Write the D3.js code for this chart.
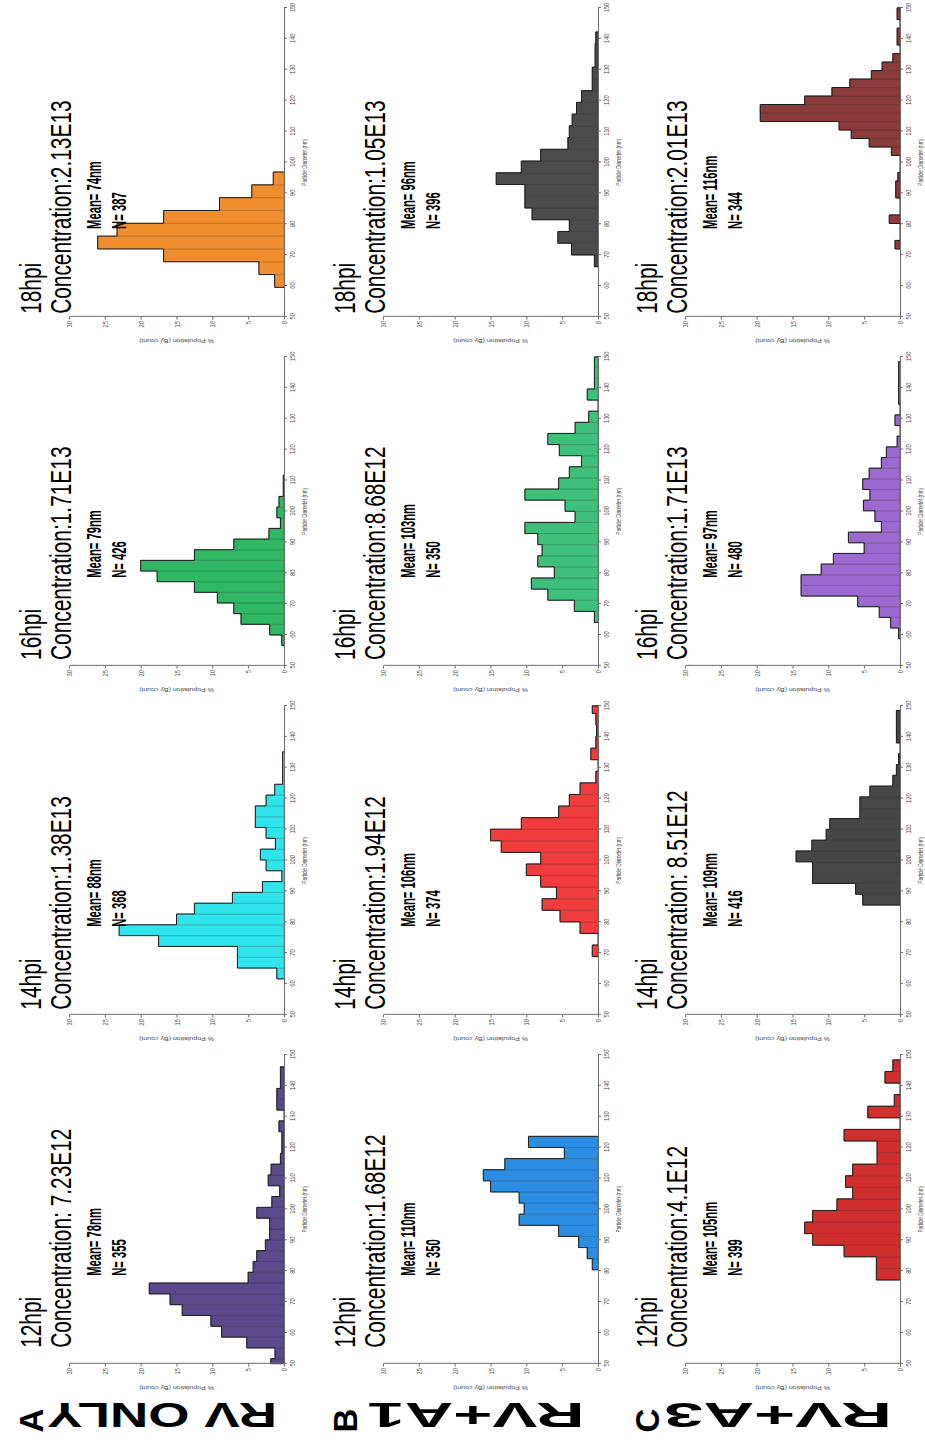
<!DOCTYPE html>
<html>
<head>
<meta charset="utf-8">
<title>Particle diameter distributions</title>
<script src="https://cdn.jsdelivr.net/npm/d3@7"></script>
<style>
  html, body { margin: 0; padding: 0; background: #fff; }
  svg { display: block; }
  text { font-family: "Liberation Sans", Arial, Helvetica, sans-serif; }
</style>
</head>
<body>
<script>
// ---- Groups (rows) and sampling times (columns) ----
const groupNames = ["RV ONLY", "RV+A1", "RV+A3"];
const groupLetters = ["A", "B", "C"];
const timepoints = ["12hpi", "14hpi", "16hpi", "18hpi"];

const concentrationLabels = [
  ["Concentration: 7.23E12", "Concentration:1.38E13", "Concentration:1.71E13", "Concentration:2.13E13"],
  ["Concentration:1.68E12", "Concentration:1.94E12", "Concentration:8.68E12", "Concentration:1.05E13"],
  ["Concentration:4.1E12", "Concentration: 8.51E12", "Concentration:1.71E13", "Concentration:2.01E13"]
];
const meanDiameters = [[78, 88, 79, 74], [110, 106, 103, 96], [105, 109, 97, 116]];
const particleCounts = [[355, 368, 426, 387], [350, 374, 350, 396], [399, 416, 480, 344]];

// ---- Histogram bins: first bin edge (nm), bin width (nm) ----
const binStart = [[48.1, 61.6, 56.5, 59.5], [80.4, 68.8, 64.0, 66.2], [77.1, 85.5, 58.75, 71.95]];
const binWidth = [[3.5, 3.5, 3.45, 4.15], [3.6, 3.75, 3.6, 3.8], [3.75, 3.5, 3.45, 2.75]];

// ---- % population (by count) per bin ----
const pctRvOnly12 = [1.85, 1.25, 5.2, 8.7, 10.2, 14.2, 15.9, 18.8, 5.0, 4.3, 3.8, 2.6, 2.0, 2.0, 3.8, 1.7, 0.6, 2.2, 1.8, 0.5, 0.3, 0.3, 0.7, 0, 1.0, 1.0, 0.5, 0.5];
const pctRvOnly14 = [1.0, 6.5, 6.5, 17.5, 23, 15, 12.5, 7.2, 3.0, 0.3, 2.5, 3.3, 1.2, 2.5, 4.0, 4.0, 2.5, 1.3, 0.2, 0.2, 0.2];
const pctRvOnly16 = [0.3, 2.0, 6.0, 7.0, 9.3, 12.5, 17.7, 20.0, 12.5, 7.0, 2.1, 0.5, 1.0, 0.7, 0.1, 0.1];
const pctRvOnly18 = [1.3, 3.5, 16.8, 26, 23.3, 16.8, 9, 4.5, 1.5];

const pctRvA1_12 = [0.8, 1.5, 2.7, 5.5, 11, 10.3, 11, 15, 16, 13, 4.7, 9.7];
const pctRvA1_14 = [0.8, 0, 2.5, 5.3, 7.8, 5.8, 8, 10, 8, 13.5, 15, 10.7, 5.5, 4, 2.5, 0.3, 0, 1.0, 0.3, 0.2, 0.3, 0.8];
const pctRvA1_16 = [0.5, 3.3, 7, 9.3, 6.1, 8.4, 7.8, 8.4, 10.2, 3.2, 4.6, 10.2, 5.5, 4, 2.3, 5.4, 7, 3.2, 1.3, 0, 1.5, 0.5, 0.5, 0.5];
const pctRvA1_18 = [0.5, 3.7, 5.6, 4.0, 9.2, 10.2, 10.2, 14.2, 10.7, 8.0, 4.2, 4.0, 3.6, 3.0, 2.3, 0.8, 0.8, 0.4, 0.4, 0.3];

const pctRvA3_12 = [3.3, 3.3, 7.8, 12.2, 13.3, 12.2, 8.8, 6.6, 7.6, 6.6, 3.2, 3.2, 7.8, 0, 4.5, 0.8, 0, 2.1, 1.0];
const pctRvA3_14 = [5.2, 6.2, 12.2, 12.2, 14.5, 12.3, 10.3, 9.8, 5.6, 5.6, 4.2, 1.0, 0.5, 0.2, 0, 0.5, 0.5, 0.5];
const pctRvA3_16 = [0.2, 1.3, 2.9, 5.9, 13.8, 13.8, 11, 9.3, 5, 7.2, 2.6, 3.5, 5.1, 4.2, 5.2, 4.3, 2.6, 1.9, 0.4, 0, 0.7, 0, 0.2, 0.2, 0.2, 0.2];
const pctRvA3_18 = [0.7, 0, 0, 1.5, 0, 0, 0.6, 0.6, 0.3, 0, 0, 1.2, 4.3, 6.8, 8.5, 19.5, 19.5, 13.3, 9.5, 7, 4, 2.5, 1, 0, 0.4, 0.4, 0, 0.4, 0.4];

const histograms = [
  [pctRvOnly12, pctRvOnly14, pctRvOnly16, pctRvOnly18],
  [pctRvA1_12, pctRvA1_14, pctRvA1_16, pctRvA1_18],
  [pctRvA3_12, pctRvA3_14, pctRvA3_16, pctRvA3_18]
];

const barColors = [
  ["#5b4a8b", "#2fe4ea", "#2fb764", "#ef8d2f"],
  ["#2b8de2", "#f03c3c", "#3ec07a", "#4b4b4b"],
  ["#d12e2e", "#474747", "#9b69cf", "#8c3b3b"]
];

const diameterTicks = [50, 60, 70, 80, 90, 100, 110, 120, 130, 140, 150];
const percentTicks = [0, 5, 10, 15, 20, 25, 30];

// ---- Page geometry ----
// The figure is laid out landscape, compressed along its width, then turned
// a quarter turn counter-clockwise to fill the portrait page.
const W = 925, H = 1440, SQ = 0.72;
const colX50 = c => 106 + 484.7 * c;      // x of the 50 nm tick for column c
const colSpan = 429;                        // 50 -> 150 nm
const rowBase = [284, 598, 900];            // y of 0 %
const plotH = 215;                          // 0 -> 30 %
const titleOffset = [22, 7, 8, 4];

const svg = d3.select("body").append("svg")
  .attr("width", W).attr("height", H);

const root = svg.append("g")
  .attr("transform", `translate(0,${H}) rotate(-90) scale(${SQ},1)`);

groupNames.forEach((name, r) => {
  const top = rowBase[r] - plotH;

  // panel letter
  root.append("text")
    .attr("transform", `translate(27,${top - 26}) scale(${1 / SQ},1)`)
    .attr("text-anchor", "middle")
    .attr("font-size", 33).attr("font-weight", "bold").attr("fill", "#000")
    .text(groupLetters[r]);

  // group label, vertical
  root.append("text")
    .attr("transform", `translate(51,${rowBase[r] - 122}) rotate(-90)`)
    .attr("text-anchor", "middle")
    .attr("font-size", 50).attr("font-weight", "bold").attr("fill", "#000")
    .attr("textLength", [230, 217, 228][r]).attr("lengthAdjust", "spacingAndGlyphs")
    .text(name);

  timepoints.forEach((tp, c) => {
    const x = d3.scaleLinear().domain([50, 150]).range([colX50(c), colX50(c) + colSpan]);
    const y = d3.scaleLinear().domain([0, 30]).range([rowBase[r], top]);
    const g = root.append("g");

    // bins, clipped to the 50-150 nm window
    const vals = histograms[r][c];
    const bins = vals.map((v, i) => ({
      x0: Math.max(50, binStart[r][c] + i * binWidth[r][c]),
      x1: Math.min(150, binStart[r][c] + (i + 1) * binWidth[r][c]),
      v
    })).filter(b => b.x1 > b.x0);

    const fill = barColors[r][c];
    const edge = d3.color(fill).darker(0.9).formatHex();

    g.selectAll("rect.bin").data(bins.filter(b => b.v > 0)).join("rect")
      .attr("class", "bin")
      .attr("x", b => x(b.x0))
      .attr("width", b => x(b.x1) - x(b.x0))
      .attr("y", b => y(b.v))
      .attr("height", b => y(0) - y(b.v))
      .attr("fill", fill)
      .attr("stroke", edge).attr("stroke-width", 0.6)
      .attr("vector-effect", "non-scaling-stroke");

    // histogram silhouette
    const p = d3.path();
    p.moveTo(x(bins[0].x0), y(0));
    bins.forEach(b => { p.lineTo(x(b.x0), y(b.v)); p.lineTo(x(b.x1), y(b.v)); });
    p.lineTo(x(bins[bins.length - 1].x1), y(0));
    g.append("path").attr("d", p.toString())
      .attr("fill", "none").attr("stroke", "#1e1e1e").attr("stroke-width", 1)
      .attr("vector-effect", "non-scaling-stroke");

    // axes
    const yAxis = d3.axisLeft(y).tickValues(percentTicks).tickSize(4).tickSizeOuter(0).tickPadding(2);
    const xAxis = d3.axisBottom(x).tickValues(diameterTicks).tickSize(3).tickSizeOuter(0).tickPadding(2);

    const ya = g.append("g").attr("transform", `translate(${x(50)},0)`).call(yAxis);
    const xa = g.append("g").attr("transform", `translate(0,${y(0)})`).call(xAxis);
    [ya, xa].forEach(a => {
      a.select(".domain").attr("stroke", "#6e6e6e").attr("vector-effect", "non-scaling-stroke");
      a.selectAll(".tick line").attr("stroke", "#6e6e6e").attr("vector-effect", "non-scaling-stroke");
      a.selectAll(".tick text").attr("fill", "#4a4a4a").attr("font-size", 8)
        .attr("font-family", "'Liberation Sans', Arial, sans-serif");
    });

    g.append("text")
      .attr("x", x(100)).attr("y", y(0) + 23)
      .attr("text-anchor", "middle").attr("font-size", 6.5).attr("fill", "#4a4a4a")
      .text("Particle Diameter (nm)");

    g.append("text")
      .attr("transform", `translate(${x(50) - 31},${y(15)}) rotate(-90)`)
      .attr("text-anchor", "middle").attr("font-size", 7).attr("fill", "#4a4a4a")
      .text("% Population (By count)");

    // titles
    const tx = x(50) + titleOffset[c];
    g.append("text").attr("x", tx).attr("y", top - 28)
      .attr("font-size", 29).attr("fill", "#000").text(tp);
    g.append("text").attr("x", tx).attr("y", top + 2)
      .attr("font-size", 29).attr("fill", "#000").text(concentrationLabels[r][c]);

    // summary statistics
    const mx = x(50) + 122;
    g.append("text")
      .attr("transform", `translate(${mx},${top + 32}) scale(0.8,1)`)
      .attr("font-size", 19.5).attr("font-weight", "bold").attr("fill", "#000")
      .text(`Mean= ${meanDiameters[r][c]}nm`);
    g.append("text")
      .attr("transform", `translate(${mx},${top + 57}) scale(0.8,1)`)
      .attr("font-size", 19.5).attr("font-weight", "bold").attr("fill", "#000")
      .text(`N= ${particleCounts[r][c]}`);
  });
});
</script>
</body>
</html>
